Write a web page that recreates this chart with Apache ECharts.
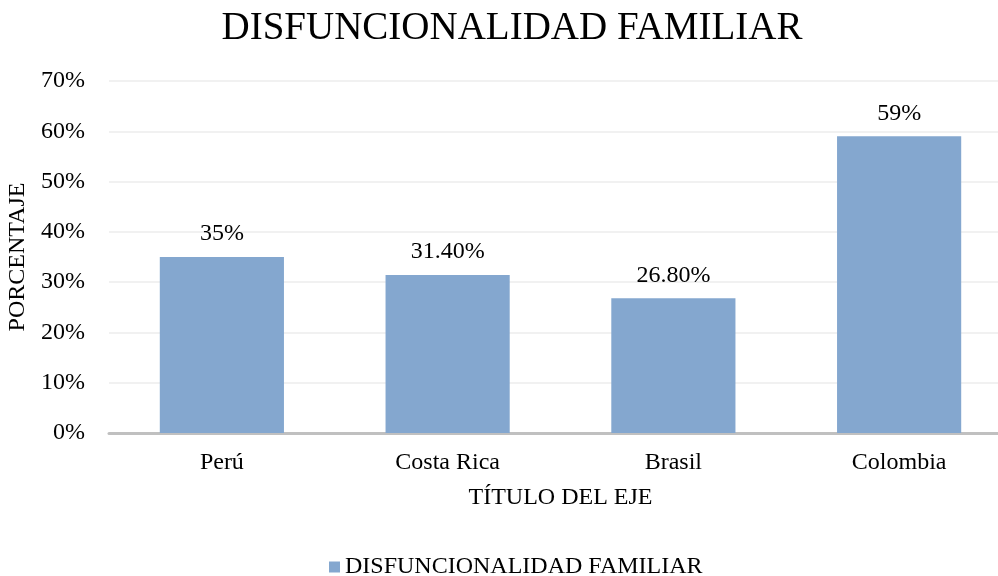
<!DOCTYPE html>
<html>
<head>
<meta charset="utf-8">
<script src="https://cdn.jsdelivr.net/npm/echarts@6/dist/echarts.min.js"></script>
<style>
  html, body { margin: 0; padding: 0; background: #fff; }
  #main { width: 998px; height: 576px; }
</style>
</head>
<body>
<div id="main"></div>
<script>
// datos
const paises = ['Perú', 'Costa Rica', 'Brasil', 'Colombia']
const valores = [35, 31.4, 26.8, 59]
const etiquetas = ['35%', '31.40%', '26.80%', '59%']
const serieNombre = 'DISFUNCIONALIDAD FAMILIAR'

const fuente = '"Liberation Serif", "Times New Roman", serif'

const chart = echarts.init(document.getElementById('main'))
const option = {
  animation: false,
  title: {
    text: 'DISFUNCIONALIDAD FAMILIAR',
    left: 507,
    textAlign: 'center',
    top: 4,
    textStyle: { fontFamily: fuente, fontSize: 39, fontWeight: 'normal', color: '#000' }
  },
  legend: {
    data: [serieNombre],
    top: 550,
    left: 324,
    icon: 'rect',
    itemWidth: 11,
    itemHeight: 11,
    itemGap: 4,
    textStyle: { fontFamily: fuente, fontSize: 24, color: '#000' }
  },
  // el área del gráfico se sale un poco por la derecha, como en el original
  grid: { left: 109, top: 81, width: 903, height: 352, outerBoundsMode: 'none' },
  xAxis: {
    type: 'category',
    data: paises,
    name: 'TÍTULO DEL EJE',
    nameLocation: 'middle',
    nameGap: 53,
    nameTextStyle: { fontFamily: fuente, fontSize: 24, color: '#000' },
    axisLine: { lineStyle: { color: '#c0c0c0', width: 3 } },
    axisTick: { show: false },
    axisLabel: { fontFamily: fuente, fontSize: 24, color: '#000', margin: 18 }
  },
  yAxis: {
    type: 'value',
    min: 0,
    max: 70,
    interval: 10,
    name: 'PORCENTAJE',
    nameLocation: 'middle',
    nameGap: 71,
    nameTextStyle: { fontFamily: fuente, fontSize: 24, color: '#000' },
    axisLine: { show: false },
    axisTick: { show: false },
    axisLabel: {
      fontFamily: fuente, fontSize: 24, color: '#000', margin: 24,
      formatter: v => v + '%'
    },
    splitLine: { lineStyle: { color: '#ececec', width: 1.5 } }
  },
  series: [
    {
      name: serieNombre,
      type: 'bar',
      data: valores,
      barWidth: '55%',
      itemStyle: { color: '#84a7cf' },
      label: {
        show: true,
        position: 'top',
        distance: 11,
        fontFamily: fuente,
        fontSize: 24,
        color: '#000',
        formatter: p => etiquetas[p.dataIndex]
      }
    }
  ]
}
chart.setOption(option)
</script>
</body>
</html>
